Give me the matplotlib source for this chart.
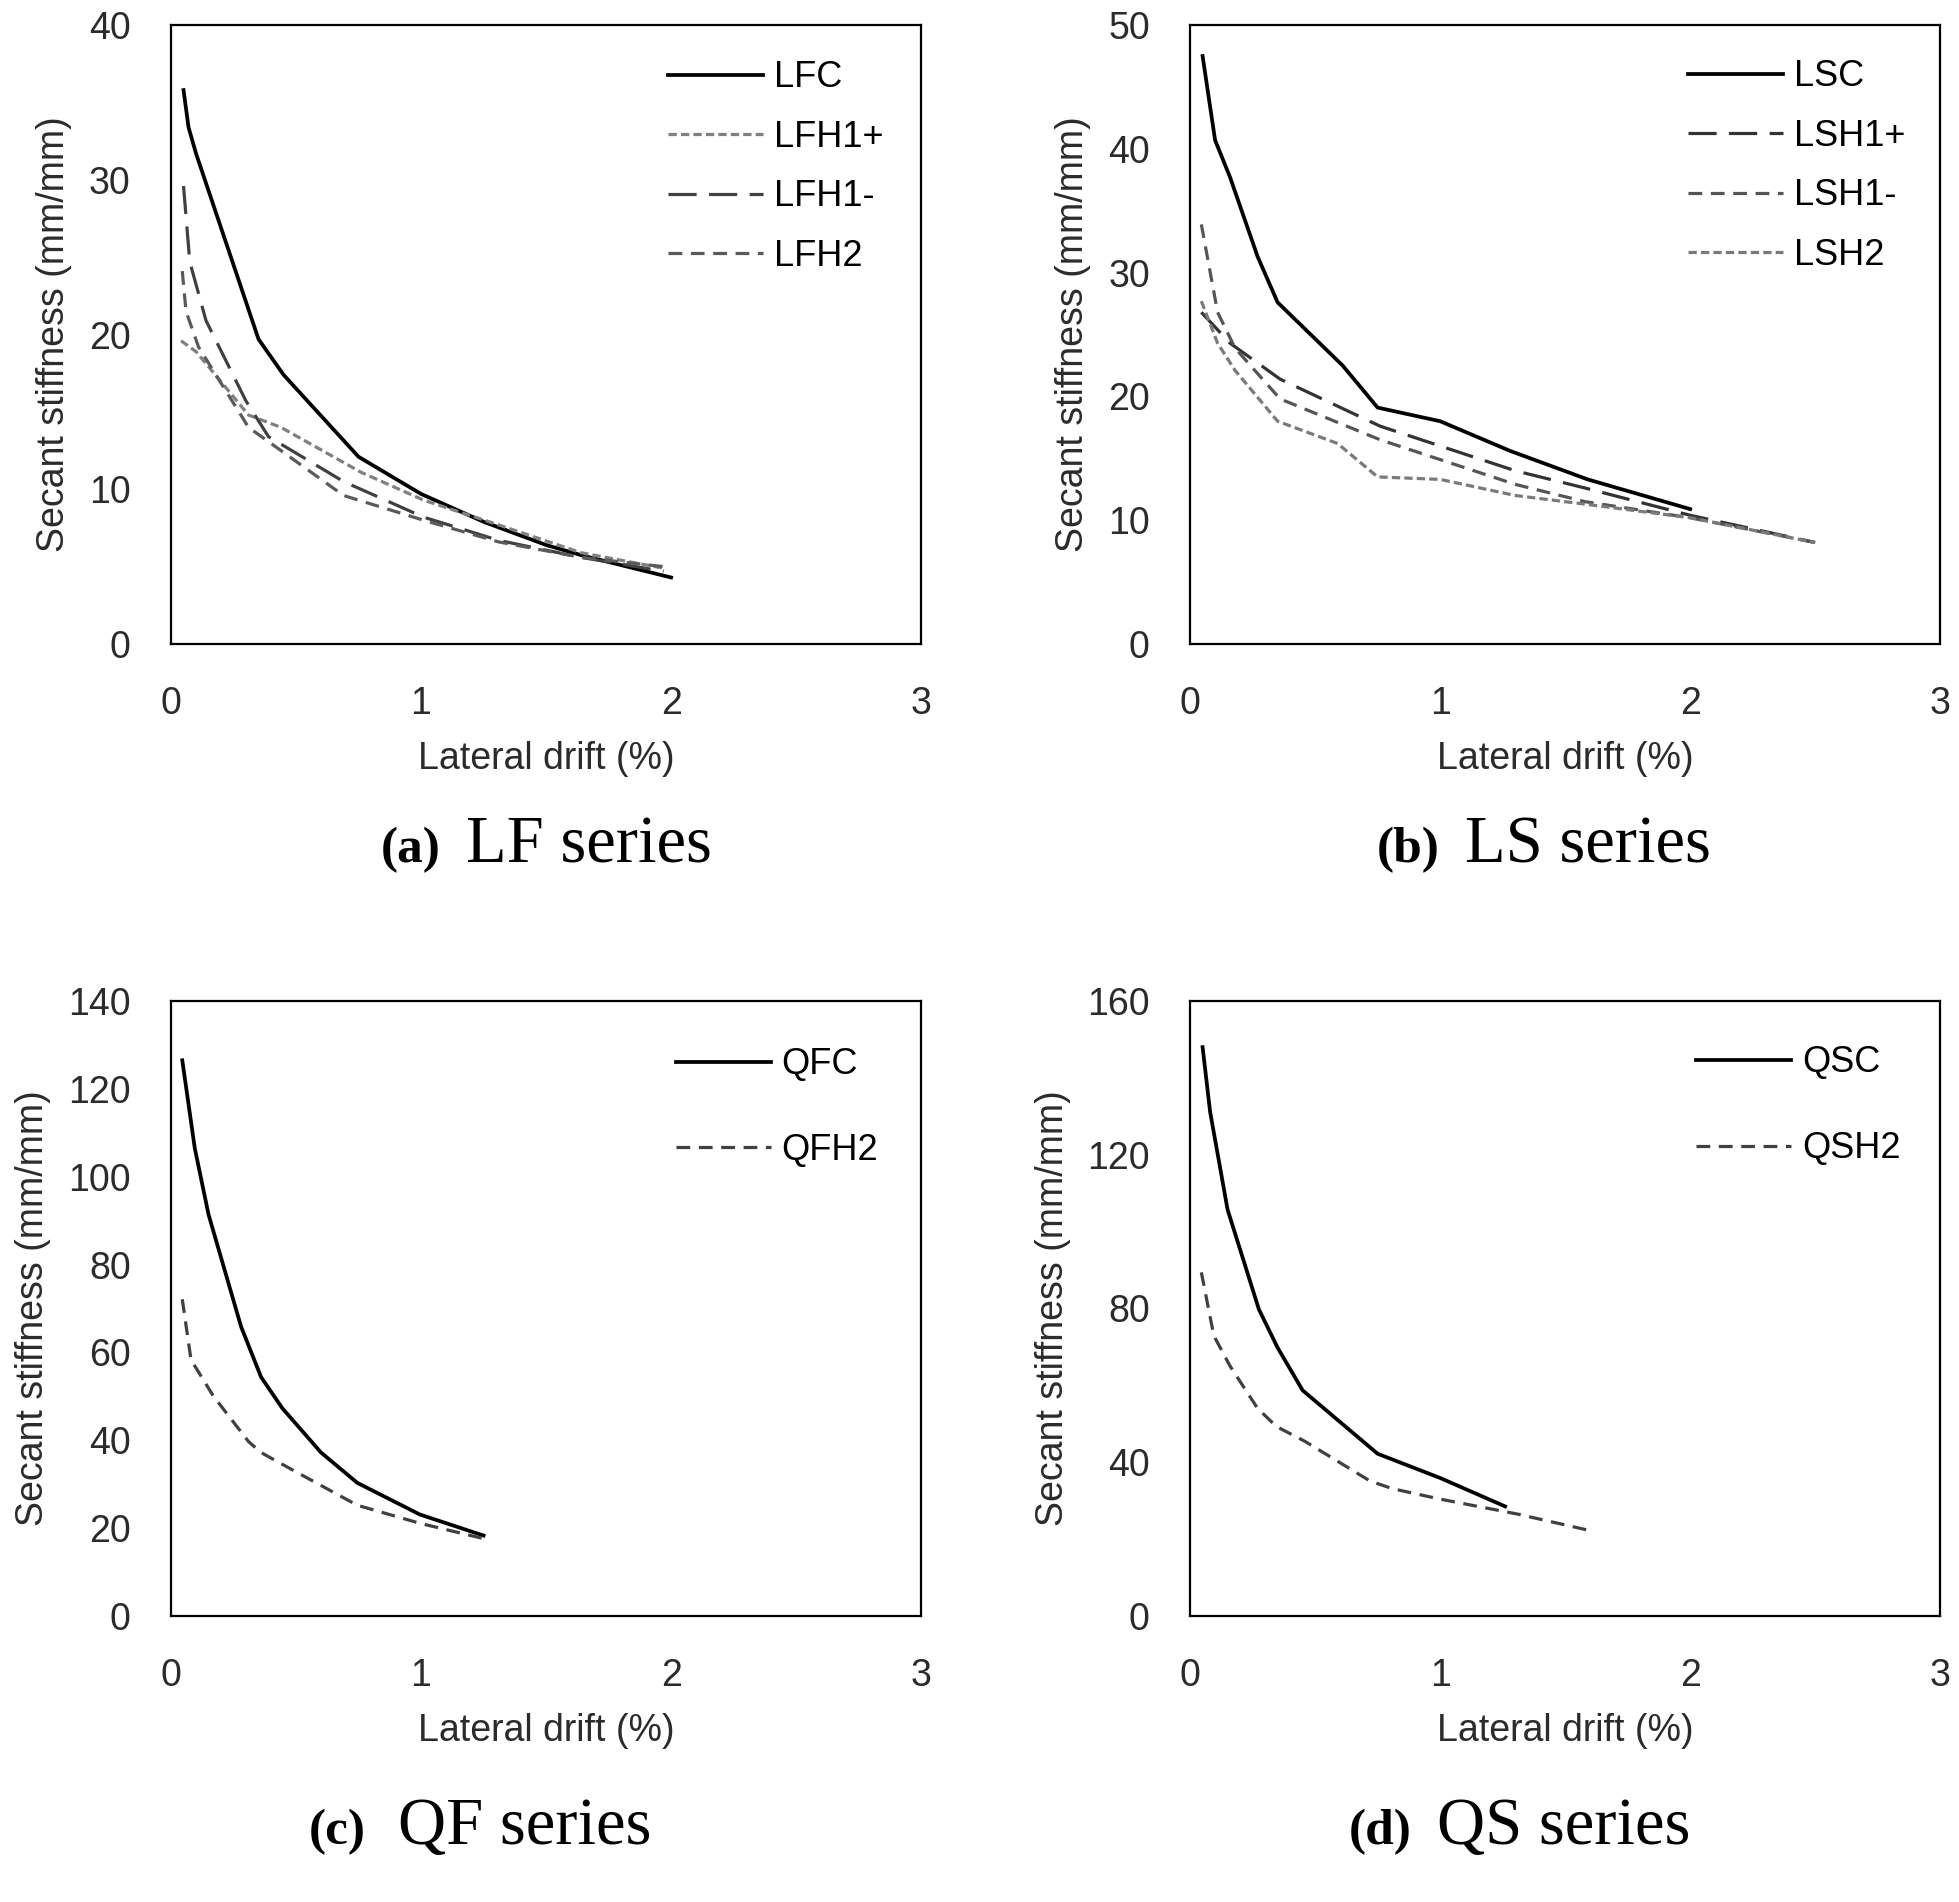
import matplotlib
matplotlib.use('Agg')
import matplotlib.pyplot as plt

plt.rcParams['font.family'] = ['Liberation Sans', 'DejaVu Sans']

# --- данные ---
# (a) LF series
lfc_x = [0.05, 0.07, 0.1, 0.35, 0.45, 0.75, 1.0, 1.25, 1.5, 1.65, 2.0]
lfc_y = [35.8, 33.4, 31.7, 19.7, 17.4, 12.1, 9.7, 7.9, 6.4, 5.7, 4.3]
lfh1p_x = [0.04, 0.1, 0.31, 0.44, 0.76, 1.01, 1.31, 1.64, 1.97]
lfh1p_y = [19.6, 18.9, 14.8, 14.0, 11.1, 9.3, 7.7, 5.9, 4.9]
lfh1m_x = [0.05, 0.075, 0.14, 0.3, 0.39, 0.69, 1.01, 1.31, 1.64, 1.97]
lfh1m_y = [29.6, 24.7, 20.9, 15.7, 13.4, 10.5, 8.2, 6.7, 5.6, 4.7]
lfh2_x = [0.045, 0.06, 0.11, 0.31, 0.44, 0.69, 1.01, 1.31, 1.64, 1.97]
lfh2_y = [24.1, 21.5, 19.2, 14.0, 12.5, 9.6, 8.0, 6.6, 5.6, 5.0]

# (b) LS series
lsc_x = [0.05, 0.1, 0.16, 0.27, 0.35, 0.61, 0.75, 1.0, 1.28, 1.59, 2.0]
lsc_y = [47.5, 40.7, 37.7, 31.3, 27.6, 22.5, 19.1, 18.0, 15.6, 13.3, 10.9]
lsh1p_x = [0.045, 0.16, 0.36, 0.76, 1.0, 1.3, 1.58, 2.0, 2.5]
lsh1p_y = [26.8, 24.3, 21.4, 17.6, 16.0, 14.0, 12.6, 10.4, 8.2]
lsh1m_x = [0.045, 0.11, 0.18, 0.36, 0.76, 1.0, 1.3, 1.58, 2.0, 2.5]
lsh1m_y = [33.9, 26.8, 23.9, 19.8, 16.5, 14.9, 12.9, 11.5, 10.2, 8.2]
lsh2_x = [0.045, 0.11, 0.18, 0.35, 0.59, 0.75, 1.0, 1.3, 1.58, 2.0, 2.5]
lsh2_y = [27.7, 24.3, 22.1, 18.0, 16.2, 13.5, 13.3, 12.0, 11.3, 10.2, 8.2]

# (c) QF series
qfc_x = [0.045, 0.095, 0.15, 0.28, 0.36, 0.445, 0.6, 0.745, 0.995, 1.25]
qfc_y = [126.5, 106.5, 91.4, 65.9, 54.4, 47.3, 37.2, 30.3, 23.1, 18.3]
qfh2_x = [0.045, 0.08, 0.17, 0.31, 0.36, 0.5, 0.745, 0.995, 1.25]
qfh2_y = [72.1, 58.3, 50.0, 39.7, 37.2, 32.8, 25.2, 21.1, 17.6]

# (d) QS series
qsc_x = [0.05, 0.08, 0.15, 0.275, 0.35, 0.45, 0.75, 1.0, 1.26]
qsc_y = [148.0, 131.2, 105.7, 79.8, 69.8, 58.7, 42.2, 35.9, 28.5]
qsh2_x = [0.045, 0.095, 0.16, 0.27, 0.345, 0.46, 0.72, 0.81, 1.0, 1.31, 1.6]
qsh2_y = [89.4, 72.9, 65.0, 54.0, 49.3, 45.4, 35.1, 33.1, 30.4, 26.5, 22.2]

# стили линий (в единицах толщины линии)
solid = '-'
fine = (0, (2.6, 1.3))
long_dash = (0, (8.8, 3.9))
med_dash = (0, (4.3, 2.7))

TXT = '#2b2b2b'
FS = 27

fig = plt.figure(figsize=(19.59, 19.02), dpi=100)

panels = [
    # позиция, ymax, шаг, серии, легенда (x, y, spacing)
    dict(pos=[0.0873, 0.6614, 0.3829, 0.3254], ymax=40, step=10,
         series=[(lfc_x, lfc_y, 'LFC', 'black', solid, 2.7),
                 (lfh1p_x, lfh1p_y, 'LFH1+', '#808080', fine, 2.3),
                 (lfh1m_x, lfh1m_y, 'LFH1-', '#404040', long_dash, 2.3),
                 (lfh2_x, lfh2_y, 'LFH2', '#5a5a5a', med_dash, 2.3)],
         leg=(0.663, 0.943, 0.68)),
    dict(pos=[0.6075, 0.6614, 0.3829, 0.3254], ymax=50, step=10,
         series=[(lsc_x, lsc_y, 'LSC', 'black', solid, 2.7),
                 (lsh1p_x, lsh1p_y, 'LSH1+', '#333333', long_dash, 2.3),
                 (lsh1m_x, lsh1m_y, 'LSH1-', '#555555', med_dash, 2.3),
                 (lsh2_x, lsh2_y, 'LSH2', '#7a7a7a', fine, 2.3)],
         leg=(0.664, 0.945, 0.68)),
    dict(pos=[0.0873, 0.1504, 0.3829, 0.3233], ymax=140, step=20,
         series=[(qfc_x, qfc_y, 'QFC', 'black', solid, 2.7),
                 (qfh2_x, qfh2_y, 'QFH2', '#404040', med_dash, 2.3)],
         leg=(0.673, 0.925, 1.41)),
    dict(pos=[0.6075, 0.1504, 0.3829, 0.3233], ymax=160, step=40,
         series=[(qsc_x, qsc_y, 'QSC', 'black', solid, 2.7),
                 (qsh2_x, qsh2_y, 'QSH2', '#404040', med_dash, 2.3)],
         leg=(0.675, 0.928, 1.41)),
]

for p in panels:
    ax = fig.add_axes(p['pos'])
    for x, y, name, color, ls, lw in p['series']:
        ax.plot(x, y, color=color, linestyle=ls, linewidth=lw, label=name)
    ax.set_xlim(0, 3)
    ax.set_ylim(0, p['ymax'])
    ax.set_xticks([0, 1, 2, 3])
    ax.set_yticks(range(0, p['ymax'] + 1, p['step']))
    ax.tick_params(axis='both', length=0, labelsize=FS, labelcolor=TXT)
    ax.tick_params(axis='x', pad=30)
    ax.tick_params(axis='y', pad=29)
    for s in ax.spines.values():
        s.set_linewidth(1.6)
        s.set_color('black')
    ax.set_xlabel('Lateral drift (%)', fontsize=FS, color=TXT, labelpad=14)
    ax.set_ylabel('Secant stiffness (mm/mm)', fontsize=FS, color=TXT, labelpad=12)
    lx, ly, sp = p['leg']
    ax.legend(loc='upper left', bbox_to_anchor=(lx, ly), frameon=False,
              fontsize=26, handlelength=2.63, handletextpad=0.3,
              labelspacing=sp, borderpad=0, borderaxespad=0)

# подписи панелей
caps = [(441, 466, 862, '(a)', 'LF series'),
        (1440, 1465, 862, '(b)', 'LS series'),
        (366, 398, 1844, '(c)', 'QF series'),
        (1412, 1437, 1844, '(d)', 'QS series')]
W, H = 1959, 1902
for xr, xl, yb, tag, name in caps:
    fig.text(xr / W, 1 - yb / H, tag, ha='right', va='baseline',
             fontsize=37, fontweight='bold', family='Liberation Serif')
    fig.text(xl / W, 1 - yb / H, name, ha='left', va='baseline',
             fontsize=48, family='Liberation Serif')

plt.savefig('out.png', dpi=100)
